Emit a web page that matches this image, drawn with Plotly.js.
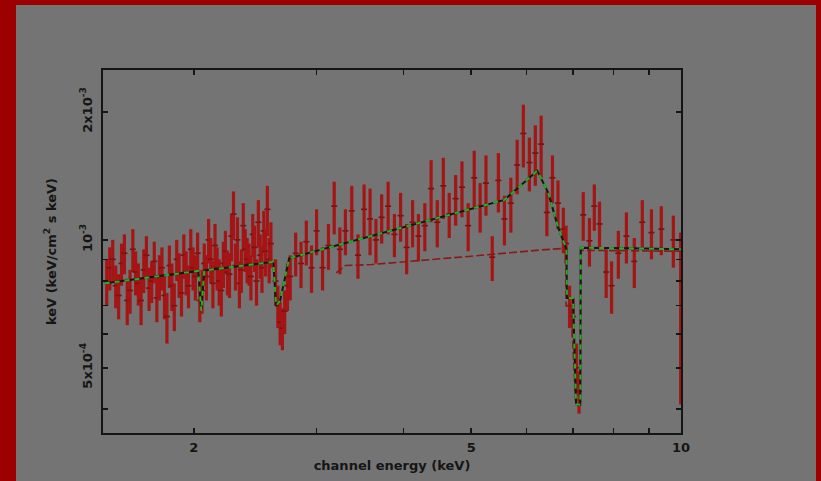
<!DOCTYPE html>
<html><head><meta charset="utf-8">
<script src="https://cdn.plot.ly/plotly-3.0.1.min.js"></script>
<style>
html,body{margin:0;padding:0;background:#9c0000;width:821px;height:481px;overflow:hidden}
#chart{position:absolute;left:16px;top:5px;width:800px;height:476px}
</style></head><body><div id="chart"></div>
<script>
// Units of flux arrays: 1e-3 keV (keV/cm^2 s keV)
const SCALE = 1e-3;

// Data (channel energy in keV, flux, symmetric 1-sigma error)
const dataE = [
 1.500,1.515,1.530,1.545,1.560,1.575,1.590,1.605,1.620,1.635,1.650,1.665,1.680,1.695,1.710,1.725,1.740,1.755,1.770,1.785,
 1.800,1.815,1.830,1.845,1.860,1.875,1.890,1.905,1.920,1.935,1.950,1.965,1.980,1.995,2.010,2.025,2.040,2.055,2.070,2.085,
 2.100,2.115,2.130,2.145,2.160,2.175,2.190,2.205,2.220,2.235,2.250,2.265,2.280,2.295,2.310,2.325,2.340,2.355,2.370,2.385,
 2.400,2.415,2.430,2.445,2.460,2.475,2.490,2.505,2.520,2.535,2.550,2.565,2.580,
 2.62,2.64,2.66,2.68,2.70,2.725,2.75,2.80,2.85,2.90,2.95,3.00,3.06,3.12,3.18,3.24,3.30,3.37,3.44,3.51,3.58,3.65,3.72,
 3.80,3.88,3.96,4.04,4.12,4.20,4.29,4.38,4.47,4.56,4.65,4.75,4.85,4.95,5.05,5.15,5.25,5.36,5.47,5.58,
 5.70,5.82,5.94,6.06,6.18,6.30,6.42,6.54,6.66,6.78,6.84,6.92,7.00,7.08,7.14,
 7.24,7.39,7.51,7.64,7.81,7.95,8.13,8.35,8.57,8.80,9.07,9.37,9.75
];
const dataF = [
 0.80,0.86,0.90,0.78,0.74,0.88,0.93,0.72,0.76,0.95,0.84,0.79,0.72,0.85,0.92,0.77,0.80,0.89,0.73,0.82,
 0.86,0.74,0.66,0.87,0.78,0.70,0.90,0.83,0.75,0.92,0.84,0.78,0.95,0.86,0.82,0.93,0.72,0.76,0.88,0.82,
 1.00,0.90,0.79,0.97,0.86,0.80,0.76,0.88,0.94,0.84,0.83,1.02,1.15,0.87,1.00,0.79,0.85,1.08,0.95,0.90,
 0.88,0.82,1.03,0.96,0.80,1.10,0.92,0.86,1.05,0.94,1.18,0.90,0.98,
 0.80,0.70,0.64,0.62,0.68,0.78,0.82,0.93,0.88,0.99,0.86,1.05,0.86,0.97,1.20,0.95,1.05,1.17,0.92,1.18,1.12,1.00,1.13,
 1.20,1.03,1.14,0.96,1.10,1.02,1.08,1.32,1.10,1.34,1.15,1.25,1.33,1.08,1.40,1.20,1.36,0.91,1.38,1.12,
 1.22,1.50,1.78,1.52,1.60,1.68,1.16,1.40,1.22,1.06,0.98,0.70,0.66,0.50,0.44,
 1.145,0.995,1.20,1.09,0.84,0.78,0.93,1.02,0.89,1.10,1.04,1.06,1.00
];
const dataErr = [
 0.10,0.10,0.10,0.09,0.09,0.10,0.10,0.09,0.09,0.11,0.10,0.09,0.09,0.10,0.10,0.09,0.09,0.10,0.09,0.10,
 0.10,0.09,0.09,0.10,0.10,0.09,0.10,0.10,0.09,0.11,0.10,0.09,0.11,0.10,0.10,0.11,0.08,0.09,0.10,0.10,
 0.12,0.11,0.10,0.12,0.10,0.10,0.10,0.11,0.11,0.10,0.10,0.13,0.15,0.11,0.13,0.10,0.10,0.14,0.11,0.11,
 0.10,0.10,0.12,0.12,0.10,0.14,0.11,0.11,0.12,0.12,0.16,0.11,0.12,
 0.10,0.08,0.075,0.07,0.08,0.10,0.10,0.11,0.11,0.12,0.11,0.13,0.10,0.12,0.17,0.12,0.13,0.17,0.11,0.17,0.20,0.12,0.15,
 0.17,0.12,0.15,0.13,0.14,0.13,0.14,0.22,0.14,0.22,0.14,0.17,0.20,0.14,0.22,0.16,0.22,0.11,0.22,0.15,
 0.18,0.22,0.30,0.22,0.26,0.28,0.14,0.18,0.16,0.13,0.10,0.08,0.07,0.07,0.05,
 0.15,0.13,0.15,0.14,0.11,0.11,0.12,0.14,0.12,0.14,0.14,0.14,0.14
];
// Last channel at the plot edge (asymmetric error)
const edgeE = [9.985];
const edgeF = [0.95];
const edgeErrUp = [0.09];
const edgeErrDown = [0.54];

// Total model
const modelE = [1.49,2.03,2.05,2.07,2.60,2.625,2.66,2.74,5.58,6.00,6.22,6.45,6.66,6.85,6.86,7.00,7.07,7.17,7.18,8.50,10.0];
const modelF = [0.790,0.845,0.68,0.847,0.888,0.70,0.72,0.905,1.242,1.377,1.454,1.29,1.073,0.950,0.73,0.73,0.41,0.41,0.958,0.955,0.950];

// Continuum component (dashed)
const contE = [3.20,3.30,3.60,4.30,5.00,6.30,6.83,6.84,6.95,7.06,7.17,7.18,8.50,10.0];
const contF = [0.836,0.870,0.875,0.895,0.915,0.947,0.955,0.70,0.70,0.42,0.42,0.945,0.942,0.940];

const sc = a => a.map(v => v * SCALE);

const RED = '#a51515';
const traces = [
 {x: dataE, y: sc(dataF), type: 'scatter', mode: 'markers',
  marker: {size: 1, color: RED},
  error_y: {type: 'data', array: sc(dataErr), visible: true, color: RED, thickness: 3.2, width: 0},
  error_x: {type: 'percent', value: 1.0, visible: true, color: '#7a1010', thickness: 1.6, width: 0},
  hoverinfo: 'skip'},
 {x: edgeE, y: sc(edgeF), type: 'scatter', mode: 'markers',
  marker: {size: 1, color: RED},
  error_y: {type: 'data', array: sc(edgeErrUp), arrayminus: sc(edgeErrDown), symmetric: false, visible: true, color: RED, thickness: 3, width: 0},
  hoverinfo: 'skip'},
 {x: contE, y: sc(contF), type: 'scatter', mode: 'lines',
  line: {color: '#8a1a1a', width: 1.6, dash: '8px,3px'}, hoverinfo: 'skip'},
 {x: modelE, y: sc(modelF), type: 'scatter', mode: 'lines',
  line: {color: '#151515', width: 2}, hoverinfo: 'skip'},
 {x: modelE, y: sc(modelF), type: 'scatter', mode: 'lines',
  line: {color: '#25b025', width: 2, dash: '5px,5px'}, hoverinfo: 'skip'}
];

const FONT = 'DejaVu Sans';
const TXT = '#151515';
const layout = {
 width: 800, height: 476,
 margin: {l: 87, r: 135, t: 65, b: 48},
 paper_bgcolor: '#747474', plot_bgcolor: '#747474',
 showlegend: false,
 xaxis: {
  type: 'log', range: [0.1707, 1.0],
  tickvals: [2, 5, 10], ticktext: ['2', '5', '10'],
  ticks: 'inside', ticklen: 5, tickwidth: 1.5, tickcolor: TXT,
  minor: {tickvals: [3, 4, 6, 7, 8, 9], ticks: 'inside', ticklen: 5, tickwidth: 1.5, tickcolor: TXT, showgrid: false},
  showline: true, linecolor: TXT, linewidth: 2, mirror: 'allticks',
  showgrid: false, zeroline: false,
  tickfont: {family: FONT, size: 13, color: TXT, weight: 'bold'},
  ticklabelstandoff: 1,
  title: {text: 'channel energy (keV)', font: {family: FONT, size: 13, color: TXT, weight: 'bold'}, standoff: 7}
 },
 yaxis: {
  type: 'log', range: [-3.4545, -2.6003],
  tickvals: [5e-4, 1e-3, 2e-3],
  ticktext: ['5x10<sup>-4</sup>', '10<sup>-3</sup>', '2x10<sup>-3</sup>'],
  tickangle: -90,
  ticks: 'inside', ticklen: 5, tickwidth: 1.5, tickcolor: TXT,
  minor: {tickvals: [4e-4, 6e-4, 7e-4, 8e-4, 9e-4], ticks: 'inside', ticklen: 5, tickwidth: 1.5, tickcolor: TXT, showgrid: false},
  showline: true, linecolor: TXT, linewidth: 2, mirror: 'allticks',
  showgrid: false, zeroline: false,
  tickfont: {family: FONT, size: 13, color: TXT, weight: 'bold'},
  ticklabelstandoff: 4,
  title: {text: 'keV (keV/cm<sup>2</sup> s keV)', font: {family: FONT, size: 13, color: TXT, weight: 'bold'}, standoff: 19}
 }
};

Plotly.newPlot('chart', traces, layout, {staticPlot: true, displayModeBar: false});
</script></body></html>
